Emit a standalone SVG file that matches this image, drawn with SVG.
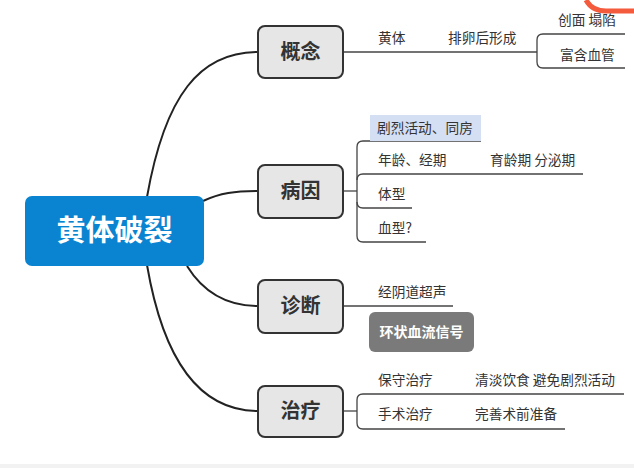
<svg xmlns="http://www.w3.org/2000/svg" width="634" height="468" viewBox="0 0 634 468">
<style>
.topic rect{fill:#e6e6e6;stroke:#333;stroke-width:2}
.topic text{font-family:"Noto Sans CJK SC","Liberation Sans",sans-serif;font-size:20px;font-weight:bold;fill:#333;text-anchor:middle}
.lbl{font-family:"Noto Sans CJK SC","Liberation Sans",sans-serif;font-size:13.7px;fill:#333}
.conn path,.conn line{fill:none;stroke:#222;stroke-width:2}
.sub path,.sub line{fill:none;stroke:#444;stroke-width:1.3}
</style>
<rect x="0" y="0" width="634" height="468" fill="#fff"/>
<rect x="0" y="464" width="634" height="4" fill="#f2f2f2"/>
<path d="M586,0 Q592,11 606,11 L634,11" fill="none" stroke="#f45a3c" stroke-width="5"/>
<g id="connectors" class="conn">
<path d="M147,197 C165,95 200,52 258,52"/>
<path d="M203,201 C220,193 235,191 258,191"/>
<path d="M187,266 C205,295 230,306 258,306"/>
<path d="M147,265 C165,370 205,411 258,411"/>
</g>
<g id="sub-connectors" class="sub">
<line x1="343" y1="52" x2="537" y2="52"/>
<path d="M625,34 L543,34 Q537,34 537,40 L537,62 Q537,68 543,68 L625,68"/>
<line x1="343" y1="191" x2="357" y2="191"/>
<path d="M481,141 L363,141 Q357,141 357,147 L357,236 Q357,242 363,242 L426,242"/>
<path d="M357,180 Q357,174 363,174 L583,174"/>
<path d="M357,202 Q357,208 363,208 L412,208"/>
<line x1="343" y1="306" x2="453" y2="306"/>
<line x1="343" y1="411" x2="357" y2="411"/>
<path d="M624,394 L363,394 Q357,394 357,400 L357,423 Q357,429 363,429 L565,429"/>
</g>
<g id="root">
<rect x="25" y="196" width="179" height="70" rx="7" fill="#0a84d1"/>
<text x="114.5" y="241" font-family="Noto Sans CJK SC,Liberation Sans,sans-serif" font-size="29" font-weight="bold" fill="#fff" text-anchor="middle">黄体破裂</text>
</g>
<g id="concept" class="topic">
<rect x="258" y="26" width="85" height="52" rx="7"/>
<text x="300.5" y="59">概念</text>
</g>
<g id="cause" class="topic">
<rect x="258" y="165" width="85" height="53" rx="7"/>
<text x="300.5" y="198">病因</text>
</g>
<g id="diagnosis" class="topic">
<rect x="258" y="280" width="85" height="53" rx="7"/>
<text x="300.5" y="313">诊断</text>
</g>
<g id="treatment" class="topic">
<rect x="258" y="386" width="85" height="51" rx="7"/>
<text x="300.5" y="418">治疗</text>
</g>
<g id="concept-details">
<text class="lbl" x="378" y="43">黄体</text>
<text class="lbl" x="448" y="43">排卵后形成</text>
<text class="lbl" x="558" y="25">创面 塌陷</text>
<text class="lbl" x="560" y="60">富含血管</text>
</g>
<g id="cause-details">
<rect x="370" y="115" width="111" height="26" fill="#d5dff4"/>
<text class="lbl" x="377" y="133">剧烈活动、同房</text>
<text class="lbl" x="378" y="165">年龄、经期</text>
<text class="lbl" x="490" y="165">育龄期 分泌期</text>
<text class="lbl" x="378" y="199">体型</text>
<text class="lbl" x="378" y="233">血型?</text>
</g>
<g id="diagnosis-details">
<text class="lbl" x="378" y="297">经阴道超声</text>
<rect x="369" y="312" width="105" height="40" rx="6" fill="#7a7a7a"/>
<text x="421.5" y="337" font-family="Noto Sans CJK SC,Liberation Sans,sans-serif" font-size="14" font-weight="bold" fill="#fff" text-anchor="middle">环状血流信号</text>
</g>
<g id="treatment-details">
<text class="lbl" x="378" y="385">保守治疗</text>
<text class="lbl" x="475" y="385">清淡饮食 避免剧烈活动</text>
<text class="lbl" x="378" y="419">手术治疗</text>
<text class="lbl" x="475" y="419">完善术前准备</text>
</g>
</svg>
